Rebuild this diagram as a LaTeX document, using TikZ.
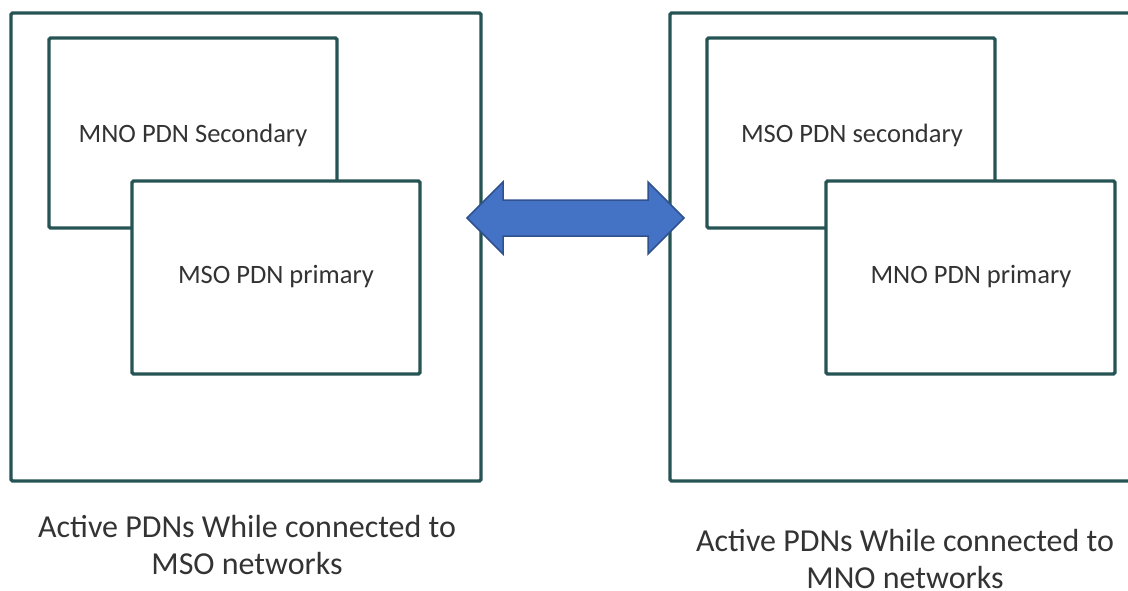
\documentclass[tikz,border=0pt]{standalone}
\usepackage{fontspec}
\setmainfont{Carlito}
\definecolor{boxline}{HTML}{265353}
\definecolor{arrfill}{HTML}{4472C4}
\definecolor{arrline}{HTML}{2F528F}
\definecolor{txt}{HTML}{333333}
\tikzset{
  framebox/.style={draw=boxline, line width=3.3pt, rounded corners=1.5pt, fill=white},
  innertext/.style={font=\fontsize{26.5}{30}\selectfont, text=txt},
  captext/.style={font=\fontsize{32}{37.5}\selectfont, text=txt, align=center, inner sep=0pt},
}
\begin{document}
\begin{tikzpicture}[x=1pt,y=-1pt]
\useasboundingbox (0,0) rectangle (1128,590);
\begin{scope}
\clip (0,0) rectangle (1128,590);
% left group
\draw[framebox] (11,13) rectangle (481,481);
\draw[framebox] (49,38) rectangle (337,228);
\draw[framebox] (132,181) rectangle (420,374);
\node[innertext] (ls) at (193,135) {MNO PDN Secondary};
\node[innertext] (lp) at (276,277) {MSO PDN primary};
% right group
\draw[framebox] (670,13) rectangle (1140,481);
\draw[framebox] (707,38) rectangle (995,228);
\draw[framebox] (826,181) rectangle (1115,374);
\node[innertext] (rs) at (852,135) {MSO PDN secondary};
\node[innertext] (rp) at (971,277) {MNO PDN primary};
\end{scope}
% double arrow
\draw[fill=arrfill, draw=arrline, line width=1.5pt, line join=miter]
  (467,218) -- (503,182) -- (503,200) -- (648,200) -- (648,182) -- (684,218)
  -- (648,254) -- (648,236) -- (503,236) -- (503,254) -- cycle;
% captions
\node[captext] (lc) at (247,545) {Active PDNs While connected to\\MSO networks};
\node[captext] (rc) at (905,559) {Active PDNs While connected to\\MNO networks};
\end{tikzpicture}
\end{document}
